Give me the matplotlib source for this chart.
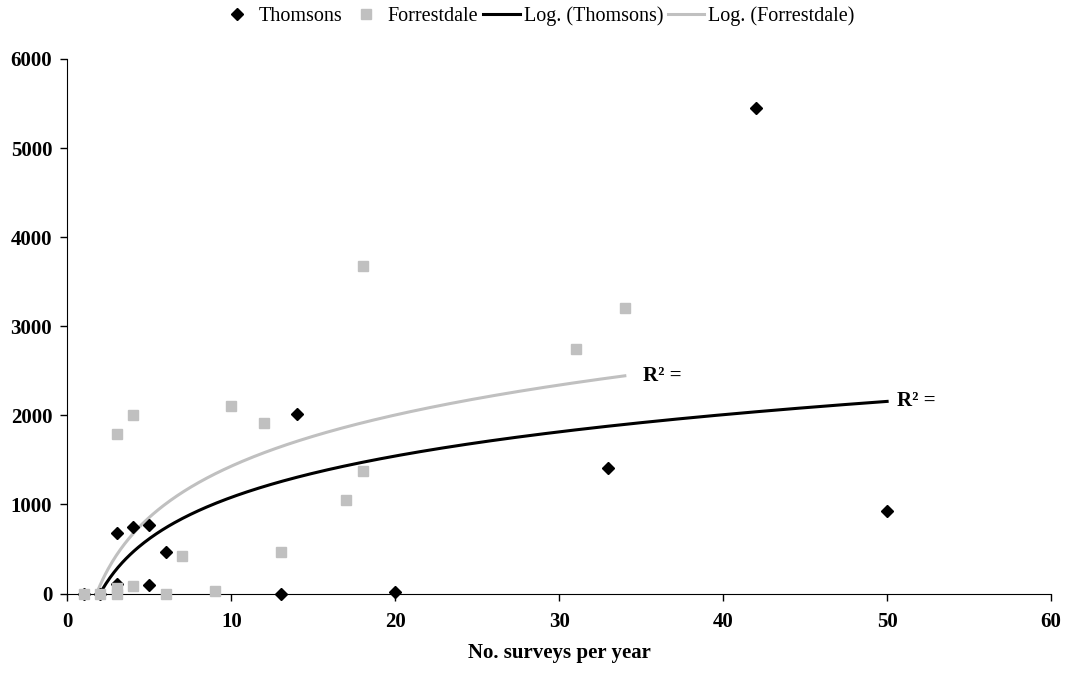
import numpy as np
import matplotlib
matplotlib.use('Agg')
import matplotlib.pyplot as plt

plt.rcParams['font.family'] = ['Liberation Serif', 'DejaVu Serif']

# survey counts per year and values
thomsons_x = [1, 2, 3, 3, 4, 5, 5, 6, 13, 14, 20, 33, 42, 50]
thomsons_y = [0, 0, 680, 110, 750, 770, 100, 470, 0, 2020, 20, 1410, 5450, 930]

forrest_x = [1, 2, 3, 3, 3, 4, 4, 6, 7, 9, 10, 12, 13, 17, 18, 18, 31, 34]
forrest_y = [0, 0, 0, 60, 1790, 2000, 90, 0, 420, 30, 2100, 1910, 470, 1050, 1380, 3680, 2740, 3200]

x_ticks = [0, 10, 20, 30, 40, 50, 60]
y_ticks = [0, 1000, 2000, 3000, 4000, 5000, 6000]

grey = '#c0c0c0'


def log_fit(x, y):
    # same as the Excel logarithmic trendline: y = a*ln(x) + b
    a, b = np.polyfit(np.log(x), y, 1)
    xs = np.linspace(min(x), max(x), 400)
    ys = a * np.log(xs) + b
    return xs, ys


fig = plt.figure(figsize=(10.69, 6.75), dpi=100)
ax = fig.add_axes([0.0631, 0.1207, 0.9201, 0.7919])

ax.plot(thomsons_x, thomsons_y, linestyle='none', marker='D', color='black',
        markersize=6, label='Thomsons', zorder=3, clip_on=False)
ax.plot(forrest_x, forrest_y, linestyle='none', marker='s', color=grey,
        markersize=7, label='Forrestdale', zorder=4, clip_on=False)

tx, ty = log_fit(thomsons_x, thomsons_y)
fx, fy = log_fit(forrest_x, forrest_y)
ax.plot(tx, ty, color='black', lw=2.2, label='Log. (Thomsons)', zorder=2)
ax.plot(fx, fy, color=grey, lw=2.2, label='Log. (Forrestdale)', zorder=2)

ax.text(tx[-1] + 0.6, ty[-1], 'R² =', fontsize=15, fontweight='bold',
        va='center', ha='left')
ax.text(fx[-1] + 1.1, fy[-1], 'R² =', fontsize=15, fontweight='bold',
        va='center', ha='left')

ax.set_xlim(0, 60)
ax.set_ylim(0, 6000)
ax.set_xticks(x_ticks)
ax.set_yticks(y_ticks)
for lab in ax.get_xticklabels() + ax.get_yticklabels():
    lab.set_fontweight('bold')
ax.tick_params(direction='out', length=5, width=1, labelsize=15)
ax.tick_params(axis='x', pad=8)
ax.tick_params(axis='y', pad=6)
ax.spines['top'].set_visible(False)
ax.spines['right'].set_visible(False)
ax.set_xlabel('No. surveys per year', fontsize=15, fontweight='bold', labelpad=8)

fig.legend(loc='center', bbox_to_anchor=(0.502, 0.976), ncol=4, frameon=False,
           fontsize=14.5, handlelength=1.8, handletextpad=0.2, columnspacing=0.25,
           borderaxespad=0, borderpad=0)

fig.savefig('out.png', dpi=100)
